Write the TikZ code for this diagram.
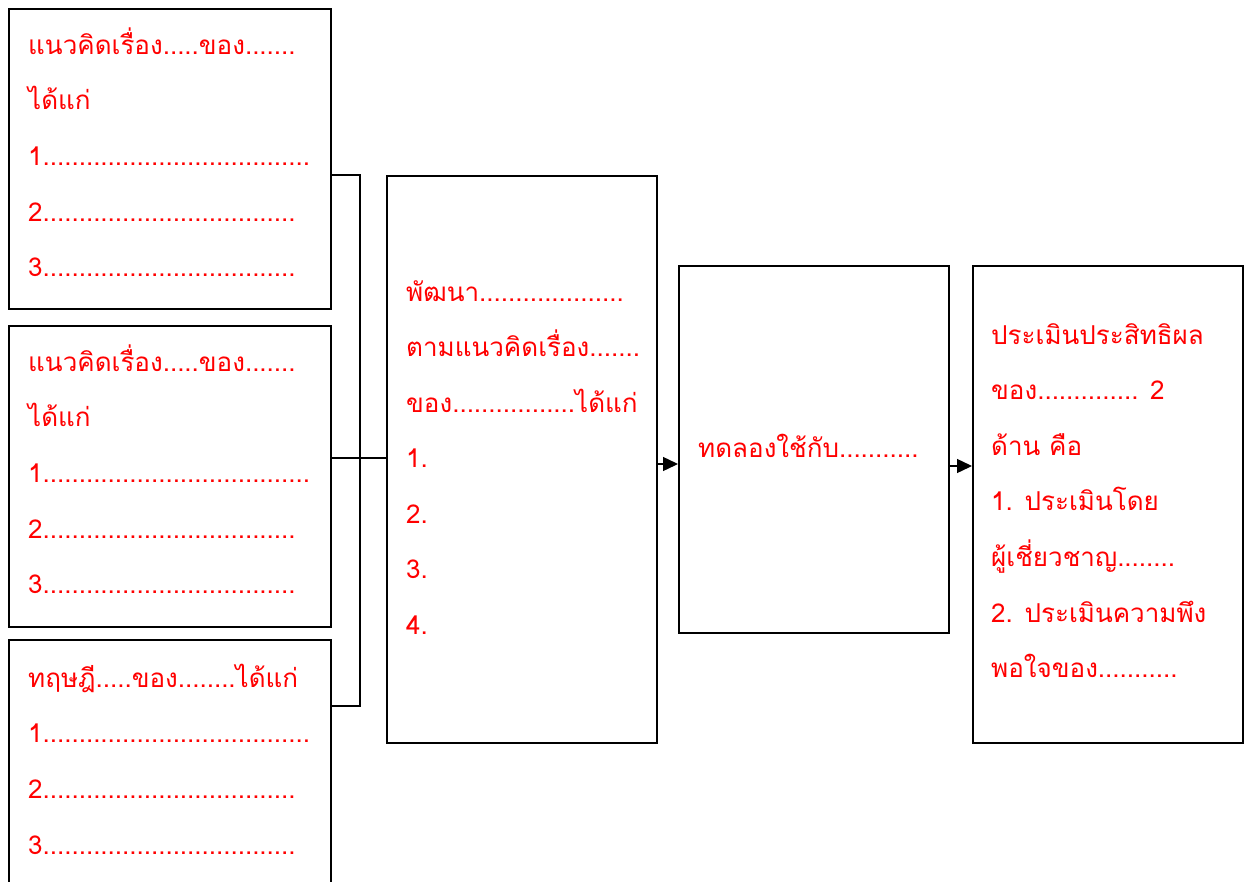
\documentclass[tikz,border=0pt]{standalone}
\usepackage{fontspec}
\newfontfamily\thaifont[Script=Thai]{Loma}
\usetikzlibrary{arrows.meta}
\tikzset{
  box/.style={draw=black, line width=1.8pt, anchor=north west, inner sep=0pt},
  txt/.style={text=red, font=\thaifont\fontsize{26}{30}\selectfont, anchor=base west, inner sep=0pt},
  link/.style={draw=black, line width=1.4pt},
  arr/.style={link, -{Triangle[length=15pt,width=14pt]}}
}
\begin{document}
\begin{tikzpicture}[x=1pt,y=-1pt]
\clip (0,0) rectangle (1247,881);
\fill[white] (0,0) rectangle (1247,881);
% boxes
\node[box, minimum width=322, minimum height=300] (a) at (8,8) {};
\node[box, minimum width=322, minimum height=301] (b) at (8,325) {};
\node[box, minimum width=322, minimum height=270] (c) at (8,639) {};
\node[box, minimum width=270, minimum height=567] (m) at (386,175) {};
\node[box, minimum width=270, minimum height=367] (d) at (678,265) {};
\node[box, minimum width=270, minimum height=477] (e) at (972,265) {};
% bracket
\coordinate (j1) at (360,175);
\coordinate (j2) at (360,458);
\coordinate (j3) at (360,706);
\draw[link] (a.east |- j1) -- (j1) -- (j3) -- (c.east |- j3);
\draw[link] (b.east |- j2) -- (m.west |- j2);
% arrows
\coordinate (y1) at (0,464);
\coordinate (y2) at (0,466);
\draw[arr] (m.east |- y1) -- (d.west |- y1);
\draw[arr] (d.east |- y2) -- (e.west |- y2);
% box a
\node[txt] (ta0) at (28,54) {แนวคิดเรื่อง.....ของ.......};
\node[txt] (ta1) at (28,109.7) {ได้แก่};
\node[txt] (ta2) at (28,165.4) {1.....................................};
\node[txt] (ta3) at (28,221.1) {2...................................};
\node[txt] (ta4) at (28,276.8) {3...................................};
% box b
\node[txt] (tb0) at (28,371) {แนวคิดเรื่อง.....ของ.......};
\node[txt] (tb1) at (28,426.7) {ได้แก่};
\node[txt] (tb2) at (28,482.4) {1.....................................};
\node[txt] (tb3) at (28,538.1) {2...................................};
\node[txt] (tb4) at (28,593.8) {3...................................};
% box c
\node[txt] (tc0) at (28,687) {ทฤษฎี.....ของ........ได้แก่};
\node[txt] (tc1) at (28,742.7) {1.....................................};
\node[txt] (tc2) at (28,798.4) {2...................................};
\node[txt] (tc3) at (28,854.1) {3...................................};
% middle box
\node[txt] (tm0) at (406,301) {พัฒนา....................};
\node[txt] (tm1) at (406,356.5) {ตามแนวคิดเรื่อง.......};
\node[txt] (tm2) at (406,412) {ของ.................ได้แก่};
\node[txt] (tm3) at (406,467.5) {1.};
\node[txt] (tm4) at (406,523) {2.};
\node[txt] (tm5) at (406,578.5) {3.};
\node[txt] (tm6) at (406,634) {4.};
% box d
\node[txt] (td0) at (698,457) {ทดลองใช้กับ...........};
% box e
\node[txt] (te0) at (991,344) {ประเมินประสิทธิผล};
\node[txt] (te1) at (991,399.6) {ของ.............. 2};
\node[txt] (te2) at (991,455.2) {ด้าน คือ};
\node[txt] (te3) at (991,510.8) {1. ประเมินโดย};
\node[txt] (te4) at (991,566.4) {ผู้เชี่ยวชาญ........};
\node[txt] (te5) at (991,622) {2. ประเมินความพึง};
\node[txt] (te6) at (991,677.6) {พอใจของ...........};
\end{tikzpicture}
\end{document}
